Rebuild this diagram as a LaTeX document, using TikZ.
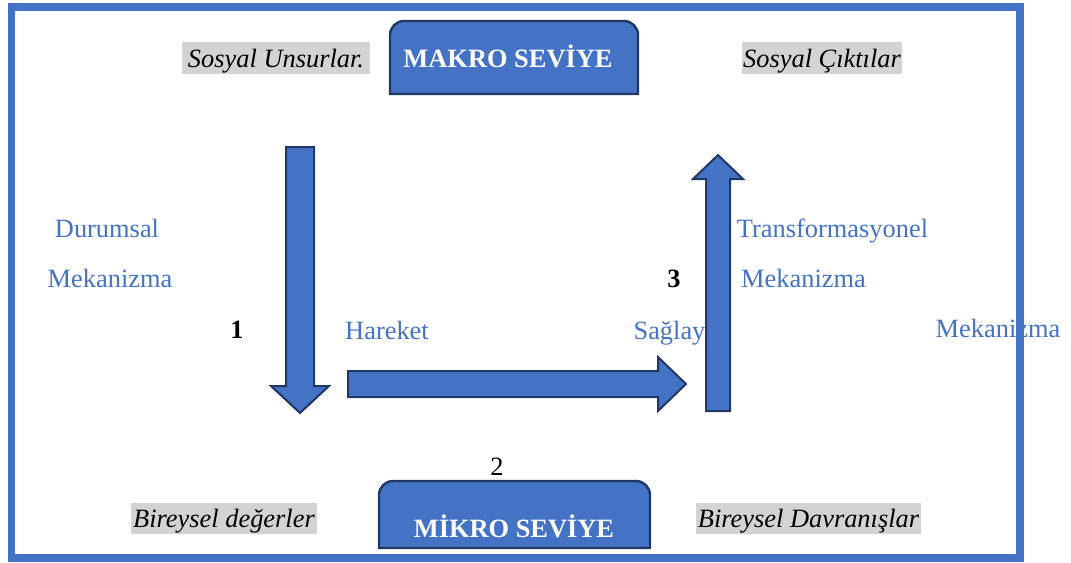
\documentclass[tikz,border=0pt]{standalone}
\usepackage{fontspec}
\setmainfont{Liberation Serif}
\definecolor{boxblue}{HTML}{4472C4}
\definecolor{edgeblue}{HTML}{1F3864}
\definecolor{markgray}{HTML}{D3D3D3}

\begin{document}
\begin{tikzpicture}[x=0.75pt,y=0.75pt,
    every node/.style={font=\fontsize{19.8}{23}\selectfont},
    lbl/.style={anchor=base,text=boxblue},
    num/.style={anchor=base,font=\fontsize{19.8}{23}\selectfont\bfseries},
    hilite/.style={anchor=base,fill=markgray,inner xsep=0pt,inner ysep=0pt,
      text height=18.5pt,text depth=5pt,font=\fontsize{19.8}{23}\selectfont\itshape},
    blockarrow/.style={fill=boxblue,draw=edgeblue,line width=1.5pt,line join=miter},
    levelbox/.style={fill=boxblue,draw=edgeblue,line width=1.8pt}]
    \useasboundingbox (0,0) rectangle (1071,-562) ;
    % italic labels on grey
    \node[hilite,minimum width=141pt] (sosun) at (276,-67) {Sosyal Unsurlar.\hspace{6pt}} ;
    \node[hilite,minimum width=120pt] (soscik) at (822,-67) {Sosyal Çıktılar} ;
    \node[hilite,minimum width=139.5pt] (birdeg) at (224,-527.5) {Bireysel değerler} ;
    \node[hilite,minimum width=168.75pt] (birdav) at (808.5,-527.5) {Bireysel Davranışlar} ;
    % blue labels
    \node[lbl] (durum) at (107,-237) {Durumsal} ;
    \node[lbl] (mekA) at (110,-287) {Mekanizma} ;
    \node[lbl] (hareket) at (387,-339) {Hareket} ;
    \node[lbl] (saglay) at (669.5,-339) {Sağlay} ;
    \node[lbl] (trans) at (832.5,-237.5) {Transformasyonel} ;
    \node[lbl] (mekB) at (803.5,-287) {Mekanizma} ;
    \node[lbl] (mekC) at (998,-337) {Mekanizma} ;
    % numbers
    \node[num] (one) at (237,-338) {1} ;
    \node[num] (three) at (674,-287) {3} ;
    \node[anchor=base] (two) at (497,-475) {2} ;
    % block arrows
    \draw[blockarrow] (286,-147) -- (314,-147) -- (314,-386) -- (329,-386)
      -- (300,-413) -- (271,-386) -- (286,-386) -- cycle ;
    \draw[blockarrow] (348,-371) -- (658,-371) -- (658,-357) -- (686,-384)
      -- (658,-411) -- (658,-397) -- (348,-397) -- cycle ;
    \draw[blockarrow] (706,-411) -- (706,-179) -- (693,-179) -- (718,-155)
      -- (743,-179) -- (730,-179) -- (730,-411) -- cycle ;
    % level boxes
    \draw[levelbox] (390,-94) -- (390,-35) arc[start angle=180,end angle=90,radius=14]
      -- (624,-21) arc[start angle=90,end angle=0,radius=14] -- (638,-94) -- cycle ;
    \node[anchor=base,text=white,font=\fontsize{19.8}{23}\selectfont\bfseries] (makro) at (508,-67) {MAKRO SEVİYE} ;
    \draw[levelbox] (379,-548) -- (379,-495) arc[start angle=180,end angle=90,radius=14]
      -- (636,-481) arc[start angle=90,end angle=0,radius=14] -- (650,-548) -- cycle ;
    \node[anchor=base,text=white,font=\fontsize{19.8}{23}\selectfont\bfseries] (mikro) at (514,-537) {MİKRO SEVİYE} ;
    % frame
    \draw[boxblue,line width=5.6pt] (11.5,-7) rectangle (1020,-558) ;
\end{tikzpicture}
\end{document}
